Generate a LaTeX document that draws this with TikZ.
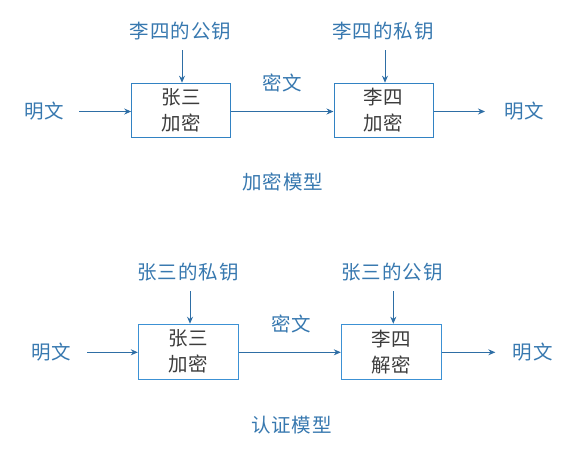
\documentclass[tikz,border=0pt]{standalone}
\usepackage{fontspec}
\setmainfont{Noto Sans CJK SC}[LetterSpace=5]
\usetikzlibrary{arrows.meta}
\definecolor{lbl}{RGB}{55,120,175}
\definecolor{arr}{RGB}{46,110,165}
\definecolor{boxc}{RGB}{50,130,195}
\definecolor{boxd}{RGB}{60,145,212}
\definecolor{inner}{RGB}{60,60,60}
\tikzset{
  lab/.style={text=lbl,font=\fontsize{19.5}{22}\selectfont,inner sep=0pt},
  procbox/.style={draw=boxc,line width=1pt,minimum width=99pt,minimum height=54pt,inner sep=0pt,
    text=inner,align=center,font=\fontsize{19.5}{26}\selectfont},
  conn/.style={draw=arr,line width=0.9pt,-{Stealth[length=7pt,width=6pt]}}
}
\begin{document}
\begin{tikzpicture}[x=1pt,y=-1pt]
\useasboundingbox (0,0) rectangle (572,448);
% top: encryption model
\node[procbox] (b1) at (181.2,110.2) {张三\\加密};
\node[procbox] (b2) at (383.5,110.2) {李四\\加密};
\node[lab] (p1) at (44,111) {明文};
\node[lab] (p2) at (524.5,111) {明文};
\coordinate (p1e) at (79,111.5);
\coordinate (p2s) at (485,111.5);
\node[lab] (k1) at (180.5,31.5) {李四的公钥};
\node[lab] (k2) at (383,31.5) {李四的私钥};
\coordinate (k1e) at (182,50);
\coordinate (k2e) at (385,50);
\node[lab] (c1) at (282,82.5) {密文};
\node[lab] (t1) at (283,182) {加密模型};
\draw[conn] (p1e) -- (b1.west|-p1e);
\draw[conn] (b1.east|-p1e) -- (b2.west|-p1e);
\draw[conn] (b2.east|-p1e) -- (p2s);
\draw[conn] (k1e) -- (k1e|-b1.north);
\draw[conn] (k2e) -- (k2e|-b2.north);
% bottom: authentication model
\node[procbox,draw=boxd,minimum width=100pt,minimum height=55pt] (b3) at (188.3,351.7) {张三\\加密};
\node[procbox,draw=boxd,minimum width=100pt,minimum height=55pt] (b4) at (391.3,351.7) {李四\\解密};
\node[lab] (p3) at (51.5,351.7) {明文};
\node[lab] (p4) at (532.7,351.7) {明文};
\coordinate (p3e) at (87.3,352.3);
\coordinate (p4s) at (495.3,352.3);
\node[lab] (k3) at (188,272.5) {张三的私钥};
\node[lab] (k4) at (392,272.5) {张三的公钥};
\coordinate (k3e) at (190,291);
\coordinate (k4e) at (393.3,291);
\node[lab] (c2) at (291,323.5) {密文};
\node[lab] (t2) at (291.5,425) {认证模型};
\draw[conn] (p3e) -- (b3.west|-p3e);
\draw[conn] (b3.east|-p3e) -- (b4.west|-p3e);
\draw[conn] (b4.east|-p3e) -- (p4s);
\draw[conn] (k3e) -- (k3e|-b3.north);
\draw[conn] (k4e) -- (k4e|-b4.north);
\end{tikzpicture}
\end{document}
